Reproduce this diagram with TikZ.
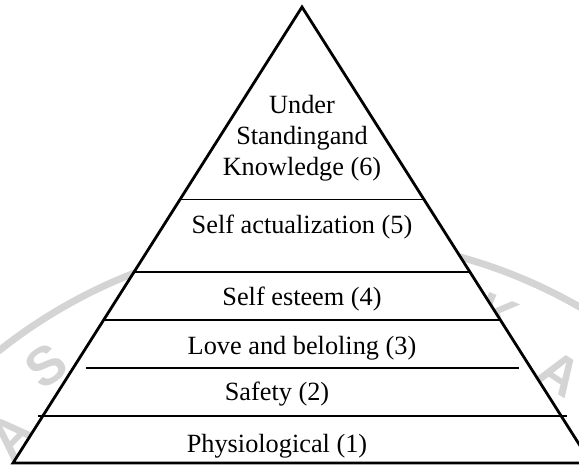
\documentclass[tikz,border=0pt]{standalone}
\usepackage{fontspec}
\setmainfont{Liberation Serif}
\newfontfamily\wmfont{Liberation Sans}
\usetikzlibrary{calc}
\begin{document}
\begin{tikzpicture}[x=1pt,y=-1pt,
  side/.style={line width=2.8pt, line join=miter},
  sep/.style={line width=1.8pt},
  lab/.style={anchor=base, inner sep=0pt, font=\fontsize{26.3}{31}\selectfont},
  wm/.style={color=black!17},
  wmletter/.style={wm, inner sep=0pt, font=\wmfont\bfseries\fontsize{54}{54}\selectfont}]
\useasboundingbox (0,0) rectangle (579,465);
% watermark
\coordinate (wc) at (321.5,757);
\draw[wm, line width=7pt] (wc) circle [radius=518.7pt];
\node[wmletter, rotate=46] (wA1) at (12,436) {A};
\node[wmletter, rotate=36] (wS) at (46,366) {S};
\node[wmletter, rotate=-22] (wK) at (498,316) {K};
\node[wmletter, rotate=-33] (wA2) at (560,374) {A};
% pyramid
\coordinate (apex) at (302,7);
\coordinate (bl) at (13,463);
\coordinate (br) at (591,463);
\fill[white] (apex) -- (br) -- (bl) -- cycle;
\draw[sep] ($(apex)!{(199.5-7)/456}!(bl)$) -- ($(apex)!{(199.5-7)/456}!(br)$);
\draw[sep] ($(apex)!{(272-7)/456}!(bl)$) -- ($(apex)!{(272-7)/456}!(br)$);
\draw[sep] ($(apex)!{(320-7)/456}!(bl)$) -- ($(apex)!{(320-7)/456}!(br)$);
\coordinate (l4a) at (86,368);
\coordinate (l4b) at (519,368);
\draw[sep] (l4a) -- (l4b);
\coordinate (l5a) at (38,416);
\coordinate (l5b) at (567,416);
\draw[sep] (l5a) -- (l5b);
\draw[side] (apex) -- (br) -- (bl) -- cycle;
% labels
\node[lab] (t6a) at (302,114) {Under};
\node[lab] (t6b) at (302,145) {Standingand};
\node[lab] (t6c) at (302,176) {Knowledge (6)};
\node[lab] (t5) at (302,234) {Self actualization (5)};
\node[lab] (t4) at (302,306) {Self esteem (4)};
\node[lab] (t3) at (302,355) {Love and beloling (3)};
\node[lab] (t2) at (277,401) {Safety (2)};
\node[lab] (t1) at (277,453) {Physiological (1)};
\end{tikzpicture}
\end{document}
